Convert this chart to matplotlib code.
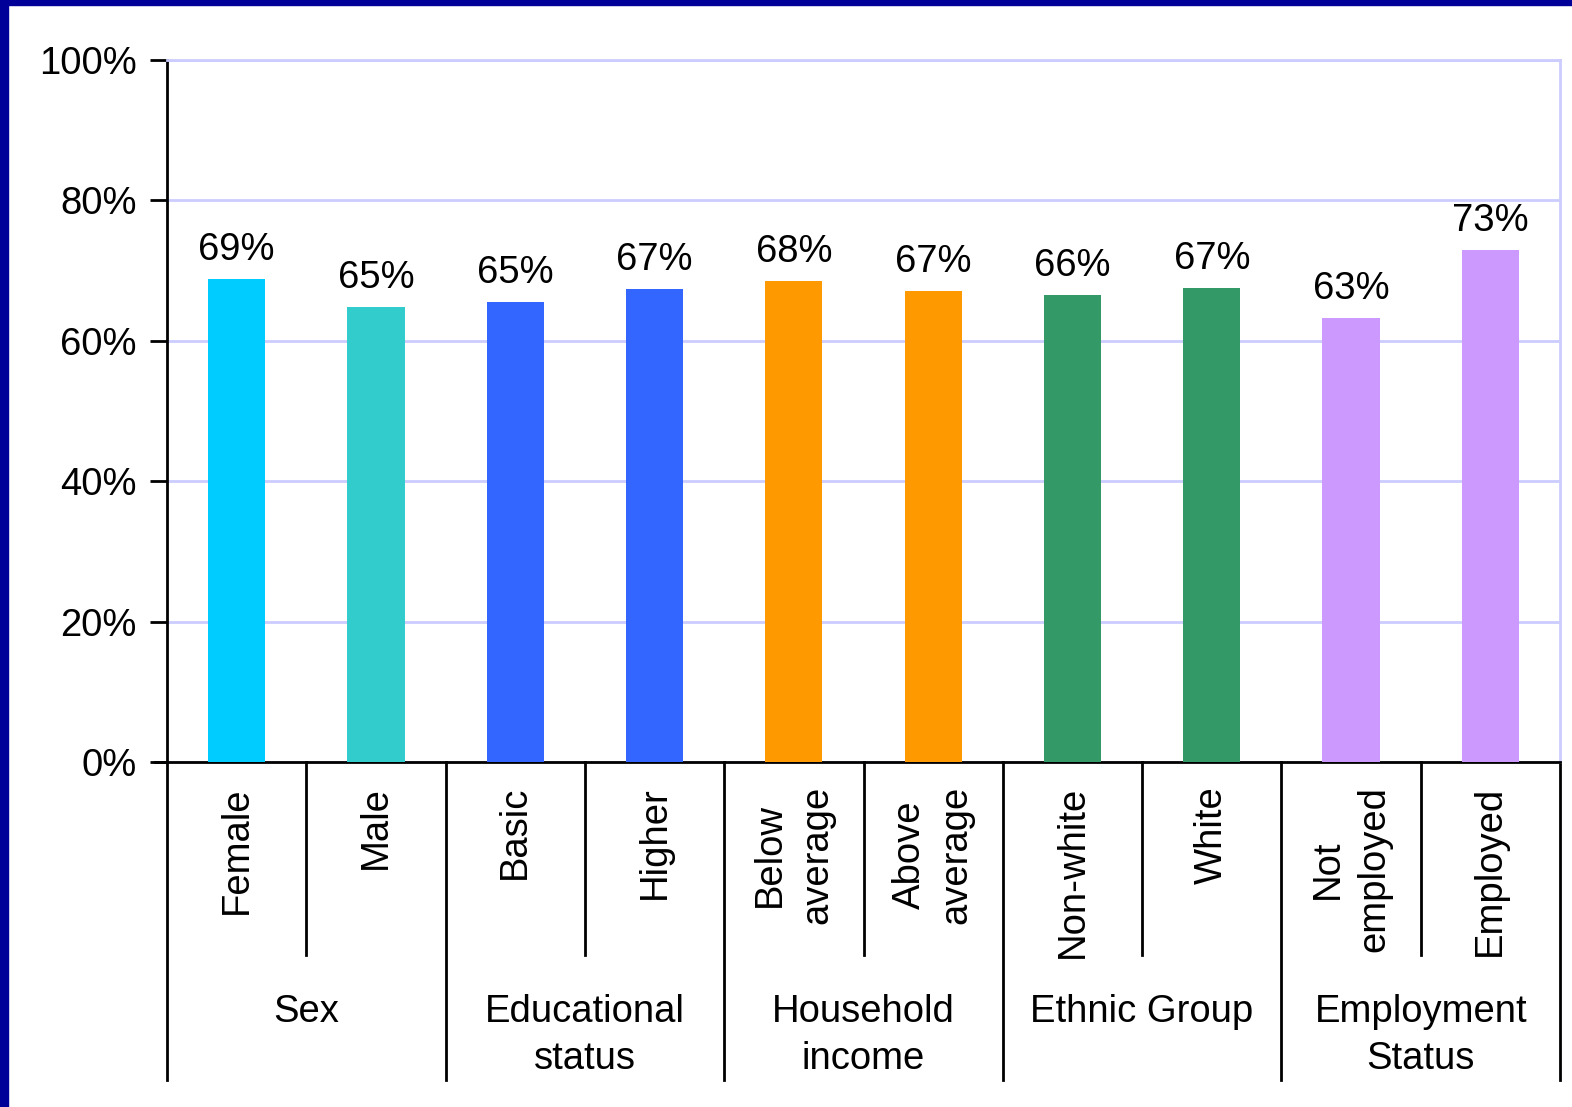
import matplotlib.pyplot as plt
import matplotlib.transforms as mtransforms
from matplotlib.patches import Rectangle

plt.rcParams['font.family'] = ['Liberation Sans', 'DejaVu Sans']

categories = ['Female', 'Male', 'Basic', 'Higher', 'Below\naverage', 'Above\naverage',
              'Non-white', 'White', 'Not\nemployed', 'Employed']
values = [68.8, 64.8, 65.5, 67.4, 68.5, 67.1, 66.5, 67.5, 63.3, 72.9]
value_labels = ['69%', '65%', '65%', '67%', '68%', '67%', '66%', '67%', '63%', '73%']
groups = ['Sex', 'Educational\nstatus', 'Household\nincome', 'Ethnic Group', 'Employment\nStatus']
group_sizes = [2, 2, 2, 2, 2]
colors = ['#00CCFF', '#33CCCC', '#3366FF', '#3366FF', '#FF9900', '#FF9900',
          '#339966', '#339966', '#CC99FF', '#CC99FF']

FS = 27.5
W, H = 1572, 1107
fig = plt.figure(figsize=(W / 100, H / 100), dpi=100)
# navy frame on left and top edges
fig.patches.append(Rectangle((0, 0), 8 / W, 1, transform=fig.transFigure,
                             color='#000099', zorder=10))
fig.patches.append(Rectangle((0, 1 - 5 / H), 1, 5 / H, transform=fig.transFigure,
                             color='#000099', zorder=10))
ax = fig.add_axes([167 / W, 1 - 762 / H, (1560 - 167) / W, (762 - 60) / H])

x = list(range(len(categories)))
ax.bar(x, values, width=0.41, color=colors, zorder=3)
for xi, v, lab in zip(x, values, value_labels):
    ax.annotate(lab, (xi, v), xytext=(0, 8), textcoords='offset points',
                ha='center', va='bottom', fontsize=FS)

ax.set_xlim(-0.5, len(categories) - 0.5)
ax.set_ylim(0, 100)
ax.set_yticks([0, 20, 40, 60, 80, 100])
ax.set_yticklabels(['0%', '20%', '40%', '60%', '80%', '100%'], fontsize=FS)
ax.tick_params(axis='y', length=12, width=2, pad=10)
ax.set_xticks([])
ax.grid(axis='y', color='#CCCCFF', linewidth=2, zorder=0)
ax.spines['left'].set_linewidth(2)
ax.spines['bottom'].set_linewidth(2)
ax.spines['top'].set_color('#CCCCFF')
ax.spines['right'].set_color('#CCCCFF')
ax.spines['top'].set_linewidth(2)
ax.spines['right'].set_linewidth(2)

# multi-level category axis below the plot
trans = mtransforms.blended_transform_factory(ax.transData, ax.transAxes)
h = 702
ax.plot([-0.5 - 12 / 139.3, -0.5], [0, 0], transform=trans, color='black', lw=2, clip_on=False)
for xi, cat in zip(x, categories):
    ax.text(xi, -24 / h, cat, transform=trans, rotation=90, ha='center', va='top',
            multialignment='center', fontsize=FS, linespacing=1.4)

edge = -0.5
for g, size in zip(groups, group_sizes):
    ax.plot([edge, edge], [0, -318 / h], transform=trans, color='black', lw=2, clip_on=False)
    for k in range(1, size):
        ax.plot([edge + k, edge + k], [0, -193 / h], transform=trans, color='black', lw=2,
                clip_on=False)
    ax.text(edge + size / 2, -232 / h, g, transform=trans, ha='center', va='top',
            fontsize=FS, linespacing=1.4)
    edge += size
ax.plot([edge, edge], [0, -318 / h], transform=trans, color='black', lw=2, clip_on=False)

fig.savefig('out.png', dpi=100, facecolor='white')
